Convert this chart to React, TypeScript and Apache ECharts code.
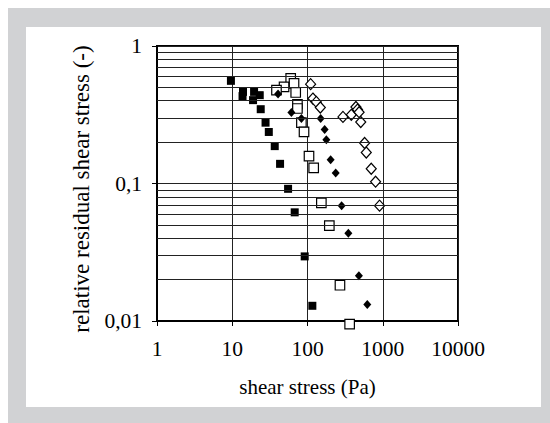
import React, { useEffect, useRef } from "react";
import * as echarts from "echarts";

const filledSquares: [number, number][] = [
  [9.6, 0.558], [13.9, 0.464], [13.7, 0.432], [19.5, 0.464], [23.2, 0.439],
  [18.9, 0.404], [23.9, 0.347], [27.7, 0.277], [30.6, 0.237], [36.7, 0.187],
  [43.2, 0.139], [55.2, 0.0915], [67.6, 0.0617], [91.8, 0.0295], [116, 0.0129],
];
const openSquares: [number, number][] = [
  [59.8, 0.581], [66.2, 0.534], [48.8, 0.505], [38.7, 0.477], [69.7, 0.459],
  [73.5, 0.377], [73.5, 0.351], [83, 0.277], [89.9, 0.237], [104.7, 0.158],
  [120.8, 0.13], [152.8, 0.0723], [195, 0.0494], [270, 0.0182], [363, 0.0095],
];
const filledDiamonds: [number, number][] = [
  [40.6, 0.447], [61.1, 0.328], [83, 0.297], [133.7, 0.388], [149.6, 0.297],
  [169, 0.247], [178, 0.208], [203, 0.149], [237, 0.119], [284, 0.069],
  [349, 0.0434], [482, 0.0213], [623, 0.0132],
];
const openDiamonds: [number, number][] = [
  [110, 0.528], [118, 0.415], [131, 0.392], [148, 0.357], [296, 0.305],
  [382, 0.316], [440, 0.36], [462, 0.345], [485, 0.33], [510, 0.28],
  [574, 0.197], [604, 0.168], [703, 0.128], [803, 0.103], [907, 0.069],
];
const xTickLabels = ["1", "10", "100", "1000", "10000"];
const yTickLabels = ["0,01", "0,1", "1"];
const yMinorGrid = [0.02, 0.03, 0.04, 0.05, 0.06, 0.07, 0.08, 0.09, 0.2, 0.3, 0.4, 0.5, 0.6, 0.7, 0.8, 0.9];

const FONT = "'Liberation Serif', 'Times New Roman', 'DejaVu Serif', serif";

export default function App() {
  const ref = useRef<HTMLDivElement>(null);
  useEffect(() => {
    if (!ref.current) return;
    const chart = echarts.init(ref.current, undefined, { renderer: "svg" });
    const fmtX = (v: number) => {
      const i = Math.round(Math.log10(v));
      return xTickLabels[i] ?? String(v);
    };
    const fmtY = (v: number) => {
      const i = Math.round(Math.log10(v)) + 2;
      return yTickLabels[i] ?? String(v);
    };
    chart.setOption({
      animation: false,
      textStyle: { fontFamily: FONT },
      grid: {
        left: 149,
        top: 38,
        width: 301,
        height: 275,
        show: true,
        borderColor: "#000",
        borderWidth: 2,
        backgroundColor: "transparent",
      },
      xAxis: {
        type: "log",
        logBase: 10,
        min: 1,
        max: 10000,
        name: "shear stress (Pa)",
        nameLocation: "middle",
        nameGap: 55,
        nameTextStyle: { fontFamily: FONT, fontSize: 21, color: "#000" },
        axisLine: { lineStyle: { color: "#000", width: 2 } },
        axisTick: { length: 5, lineStyle: { color: "#000", width: 1 } },
        axisLabel: { formatter: fmtX, fontFamily: FONT, fontSize: 21.5, color: "#000", margin: 16.5 },
        splitLine: { show: true, lineStyle: { color: "#222", width: 1 } },
      },
      yAxis: {
        type: "log",
        logBase: 10,
        min: 0.01,
        max: 1,
        name: "relative residual shear stress (-)",
        nameLocation: "middle",
        nameGap: 50.5,
        nameTextStyle: { fontFamily: FONT, fontSize: 23, color: "#000", padding: [0, 11, 0, 0] },
        axisLine: { lineStyle: { color: "#000", width: 2 } },
        axisTick: { length: 5, lineStyle: { color: "#000", width: 1 } },
        axisLabel: { formatter: fmtY, fontFamily: FONT, fontSize: 21.5, color: "#000", margin: 15 },
        splitLine: { show: true, lineStyle: { color: "#222", width: 1 } },
      },
      series: [
        {
          type: "scatter",
          data: [],
          silent: true,
          markLine: {
            silent: true,
            symbol: "none",
            label: { show: false },
            lineStyle: { color: "#222", width: 1, type: "solid" },
            data: yMinorGrid.map((v) => ({ yAxis: v })),
          },
        },
        {
          type: "scatter",
          data: filledSquares,
          symbol: "rect",
          symbolSize: 8,
          clip: false,
          itemStyle: { color: "#000", opacity: 1 },
        },
        {
          type: "scatter",
          data: openSquares,
          symbol: "rect",
          symbolSize: 9.5,
          clip: false,
          itemStyle: { color: "#fff", borderColor: "#000", borderWidth: 1.2, opacity: 1 },
        },
        {
          type: "scatter",
          data: filledDiamonds,
          symbol: "diamond",
          symbolSize: [8, 9],
          clip: false,
          itemStyle: { color: "#000", opacity: 1 },
        },
        {
          type: "scatter",
          data: openDiamonds,
          symbol: "diamond",
          symbolSize: [10, 11],
          clip: false,
          itemStyle: { color: "#fff", borderColor: "#000", borderWidth: 1.2, opacity: 1 },
        },
      ],
    });
    return () => chart.dispose();
  }, []);

  return (
    <div
      style={{
        position: "fixed",
        left: 8,
        top: 8,
        right: 0,
        bottom: 0,
        background: "#d1d2d4",
      }}
    >
      <div
        style={{
          position: "absolute",
          left: 18,
          top: 19,
          width: 515,
          height: 380,
          background: "#fff",
        }}
      />
      <div ref={ref} style={{ position: "absolute", left: 0, top: 0, width: 542, height: 415 }} />
    </div>
  );
}
